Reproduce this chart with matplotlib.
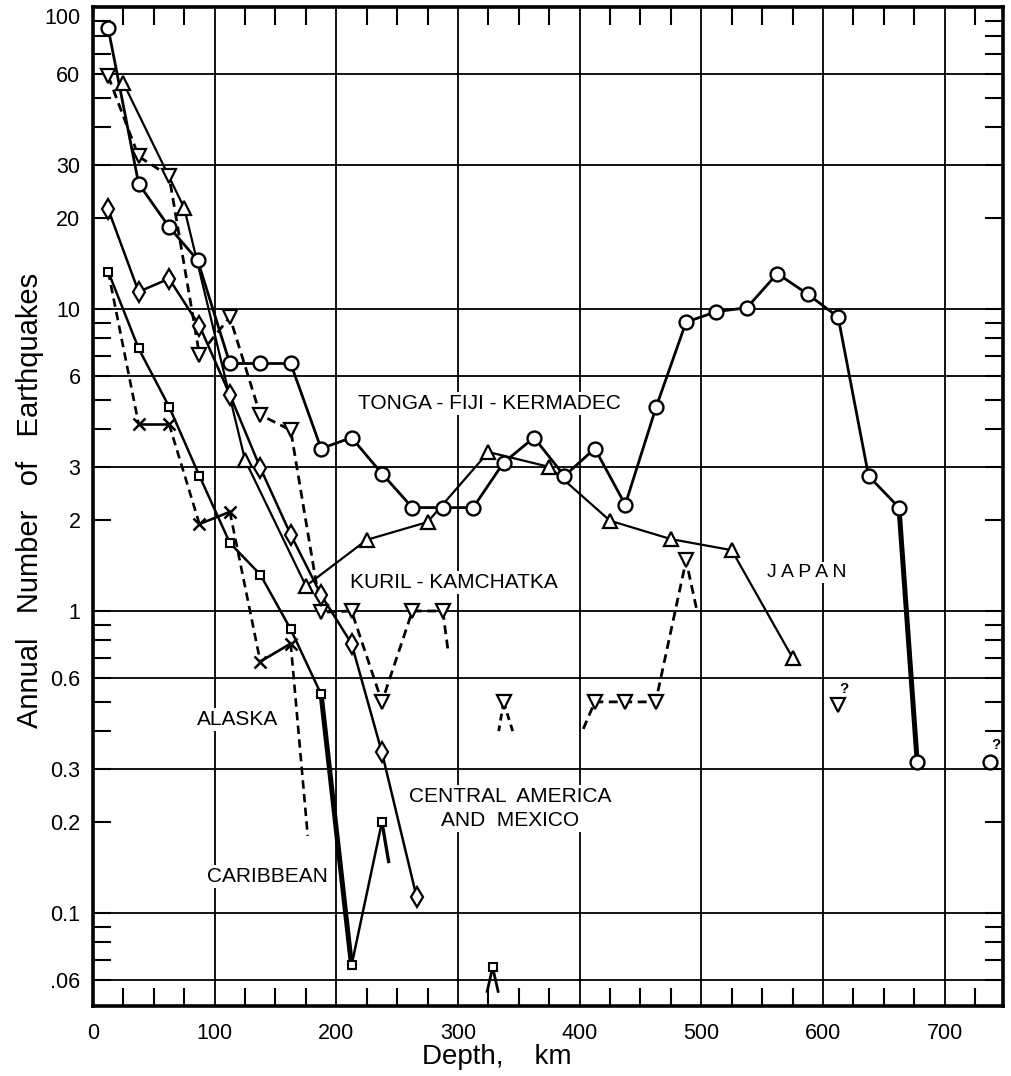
import matplotlib
matplotlib.use("Agg")
import matplotlib.pyplot as plt
from matplotlib.ticker import FixedLocator, NullFormatter, MultipleLocator
from matplotlib.transforms import ScaledTranslation

plt.rcParams['font.family'] = ['Liberation Sans', 'DejaVu Sans']

# ---------------- data (depth in km, annual number of earthquakes) -------------
tonga_depth = [12.5, 37.5, 62.5, 86, 112.5, 137.5, 162.5, 187.5, 212.5, 237.5, 262.5,
               287.5, 312.5, 337.5, 362.5, 387.5, 412.5, 437.5, 463, 487.5, 512.5,
               537.5, 562.5, 587.5, 612.5, 637.5, 662.5, 677.5]
tonga_rate = [85, 26, 18.7, 14.5, 6.6, 6.6, 6.6, 3.45, 3.75, 2.85, 2.2,
              2.2, 2.2, 3.1, 3.75, 2.8, 3.45, 2.25, 4.75, 9.05, 9.8,
              10.1, 13.1, 11.2, 9.4, 2.8, 2.2, 0.315]
tonga_q_depth = [737]
tonga_q_rate = [0.316]

japan_depth = [25, 75, 125, 175, 225, 275, 325, 375, 425, 475, 525, 575]
japan_rate = [56, 21.6, 3.16, 1.21, 1.72, 1.97, 3.36, 3.0, 1.99, 1.73, 1.59, 0.70]

kuril_depth = [12.5, 37.5, 62.5, 87.5, 112.5, 137.5, 162.5, 187.5, 212.5, 237.5, 262.5, 287.5]
kuril_rate = [59, 32, 27.6, 7.05, 9.4, 4.46, 3.97, 0.99, 1.0, 0.5, 1.0, 1.0]
kuril_tail_depth = [287.5, 292]
kuril_tail_rate = [1.0, 0.73]
kuril_iso_depth = [337.5]
kuril_iso_rate = [0.5]
kuril_iso_stub_depth = [333.5, 345]
kuril_iso_stub_rate = [0.40, 0.40]
kuril2_line_depth = [403, 412.5, 437.5, 462.5, 487.5, 496.5]
kuril2_line_rate = [0.407, 0.5, 0.5, 0.5, 1.47, 1.0]
kuril2_depth = [412.5, 437.5, 462.5, 487.5]
kuril2_rate = [0.5, 0.5, 0.5, 1.47]
kuril_q_depth = [612.5]
kuril_q_rate = [0.488]

camex_depth = [12.5, 37.5, 62.5, 87.5, 112.5, 137.5, 162.5, 187.5, 212.5, 237.5, 266]
camex_rate = [21.4, 11.4, 12.6, 8.8, 5.2, 2.98, 1.79, 1.13, 0.78, 0.34, 0.113]

carib_depth = [12.5, 37.5, 62.5, 87.5, 112.5, 137.5, 162.5, 187.5, 212.5, 237.5]
carib_rate = [13.3, 7.4, 4.75, 2.8, 1.68, 1.32, 0.87, 0.53, 0.067, 0.2]
carib_tail_depth = [237.5, 243]
carib_tail_rate = [0.2, 0.148]
carib_iso_depth = [328.5]
carib_iso_rate = [0.066]
carib_iso_stub_depth = [324, 333]
carib_iso_stub_rate = [0.055, 0.055]

alaska_depth = [12.5, 37.5, 62.5, 87.5, 112.5, 137.5, 162.5, 176.5]
alaska_rate = [13.3, 4.16, 4.16, 1.94, 2.13, 0.68, 0.78, 0.18]
alaska_seg_style = ['dashed', 'solid', 'dashed', 'solid', 'dashed', 'solid', 'dashed']

ytick_vals = [100, 60, 30, 20, 10, 6, 3, 2, 1, 0.6, 0.3, 0.2, 0.1, 0.06]
ytick_labels = ['100', '60', '30', '20', '10', '6', '3', '2', '1', '0.6', '0.3', '0.2', '0.1', '.06']
yminor_vals = [90, 80, 70, 50, 40, 9, 8, 7, 5, 4, 0.9, 0.8, 0.7, 0.5, 0.4, 0.09, 0.08, 0.07]
ygrid_vals = [60, 30, 10, 6, 3, 1, 0.6, 0.3, 0.1, 0.06]
xtick_vals = [0, 100, 200, 300, 400, 500, 600, 700]
xgrid_vals = [100, 200, 300, 400, 500, 600, 700]

# ---------------- figure ----------------
fig = plt.figure(figsize=(10.12, 10.76), dpi=100)
ax = fig.add_axes([93 / 1012, 1 - 1006 / 1076, 910 / 1012, 999 / 1076])
ax.set_yscale('log')
ax.set_xlim(0, 748)
ax.set_ylim(0.0492, 100)

for v in ygrid_vals:
    ax.axhline(v, color='black', lw=1.3, zorder=0.5)
for v in xgrid_vals:
    ax.axvline(v, color='black', lw=1.3, zorder=0.5)

ax.yaxis.set_major_locator(FixedLocator(ytick_vals))
ax.set_yticklabels(ytick_labels)
ax.yaxis.set_minor_locator(FixedLocator(yminor_vals))
ax.yaxis.set_minor_formatter(NullFormatter())
ax.tick_params(axis='y', which='both', direction='in', left=True, right=True,
               length=13, width=1.5, labelsize=15.5, pad=9)
ax.xaxis.set_major_locator(FixedLocator(xtick_vals))
ax.xaxis.set_minor_locator(MultipleLocator(25))
ax.tick_params(axis='x', which='major', length=0, labelsize=15.5, pad=12)
ax.tick_params(axis='x', which='minor', direction='in', top=True, bottom=True,
               length=13, width=1.5)
for s in ax.spines.values():
    s.set_linewidth(2.6)

# nudge the top "100" label down inside the frame, as in the original
lbl100 = ax.get_yticklabels()[0]
lbl100.set_transform(lbl100.get_transform() + ScaledTranslation(0, -9 / 100, fig.dpi_scale_trans))

mk = dict(mfc='white', mec='black', ls='none', zorder=4)
DASH = (3.2, 2.0)

# Tonga-Fiji-Kermadec
ax.plot(tonga_depth[:-1], tonga_rate[:-1], color='black', lw=2.0, zorder=2)
ax.plot(tonga_depth[-2:], tonga_rate[-2:], color='black', lw=3.6, zorder=2)
ax.plot(tonga_depth, tonga_rate, marker='o', ms=10, mew=1.7, **mk)
ax.plot(tonga_q_depth, tonga_q_rate, marker='o', ms=10, mew=1.7, **mk)

# Japan
ax.plot(japan_depth, japan_rate, color='black', lw=1.6, zorder=2)
ax.plot(japan_depth, japan_rate, marker='^', ms=10, mew=1.6, **mk)

# Kuril-Kamchatka
ax.plot(kuril_depth, kuril_rate, color='black', lw=2.0, ls=(0, DASH), zorder=2)
ax.plot(kuril_tail_depth, kuril_tail_rate, color='black', lw=2.0, ls=(0, DASH), zorder=2)
ax.plot(kuril_depth, kuril_rate, marker='v', ms=9.5, mew=1.6, **mk)
for d, r in zip(kuril_iso_stub_depth, kuril_iso_stub_rate):
    ax.plot([kuril_iso_depth[0], d], [kuril_iso_rate[0], r], color='black', lw=2.0,
            ls=(0, (2.5, 1.8)), zorder=2)
ax.plot(kuril_iso_depth, kuril_iso_rate, marker='v', ms=9.5, mew=1.6, **mk)
ax.plot(kuril2_line_depth, kuril2_line_rate, color='black', lw=2.0, ls=(0, DASH), zorder=2)
ax.plot(kuril2_depth, kuril2_rate, marker='v', ms=9.5, mew=1.6, **mk)
ax.plot(kuril_q_depth, kuril_q_rate, marker='v', ms=9.5, mew=1.6, **mk)

# Central America and Mexico
ax.plot(camex_depth, camex_rate, color='black', lw=1.8, zorder=2)
ax.plot(camex_depth, camex_rate, marker='d', ms=10, mew=1.6, **mk)

# Caribbean
ax.plot(carib_depth[:8], carib_rate[:8], color='black', lw=1.8, zorder=2)
ax.plot(carib_depth[7:9], carib_rate[7:9], color='black', lw=3.6, zorder=2)
ax.plot(carib_depth[8:], carib_rate[8:], color='black', lw=1.8, zorder=2)
ax.plot(carib_tail_depth, carib_tail_rate, color='black', lw=2.4, zorder=2)
ax.plot(carib_depth, carib_rate, marker='s', ms=6, mew=1.5, **mk)
for d, r in zip(carib_iso_stub_depth, carib_iso_stub_rate):
    ax.plot([carib_iso_depth[0], d], [carib_iso_rate[0], r], color='black', lw=2.0, zorder=2)
ax.plot(carib_iso_depth, carib_iso_rate, marker='s', ms=6, mew=1.5, **mk)

# Alaska
for i, st in enumerate(alaska_seg_style):
    ls = (0, DASH) if st == 'dashed' else '-'
    ax.plot(alaska_depth[i:i + 2], alaska_rate[i:i + 2], color='black', lw=1.9, ls=ls, zorder=2)
ax.plot(alaska_depth[1:-1], alaska_rate[1:-1], marker='x', ms=8, mew=1.8,
        color='black', ls='none', zorder=4)

# ---------------- labels ----------------
box = dict(facecolor='white', edgecolor='none', pad=1.5)
lab = dict(fontsize=15, ha='center', va='center', zorder=1.5, bbox=box)
ax.text(326, 4.85, 'TONGA - FIJI - KERMADEC', **lab)
ax.text(297, 1.24, 'KURIL - KAMCHATKA', **lab)
ax.text(587, 1.34, 'J A P A N', fontsize=14, ha='center', va='center', zorder=1.5, bbox=box)
ax.text(119, 0.436, 'ALASKA', **lab)
ax.text(143, 0.132, 'CARIBBEAN', **lab)
ax.text(343, 0.222, 'CENTRAL  AMERICA\nAND  MEXICO', linespacing=1.3,
        multialignment='center', **lab)
ax.text(617, 0.55, '?', fontsize=11, fontweight='bold', ha='center', va='center')
ax.text(742, 0.36, '?', fontsize=11, fontweight='bold', ha='center', va='center')

fig.text(30 / 1012, 1 - 500 / 1076, 'Annual   Number   of   Earthquakes', rotation=90,
         fontsize=21, ha='center', va='center')
fig.text(497 / 1012, 1 - 1057 / 1076, 'Depth,    km', fontsize=20, ha='center', va='center')

fig.savefig('out.png', dpi=100)
